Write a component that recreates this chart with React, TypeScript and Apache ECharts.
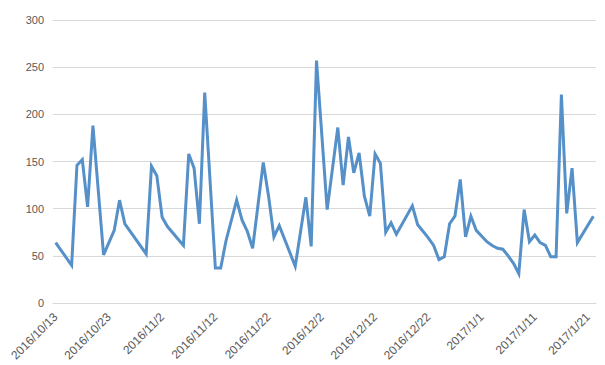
import React, { useEffect, useRef } from "react";
import * as echarts from "echarts";

// first and last day of the date axis
const startDate = "2016/10/13";
const endDate = "2017/1/22";

// observed dates and values
const dates = [
  "2016/10/13", "2016/10/16", "2016/10/17", "2016/10/18", "2016/10/19", "2016/10/20", "2016/10/22",
  "2016/10/24", "2016/10/25", "2016/10/26", "2016/10/30", "2016/10/31", "2016/11/1", "2016/11/2",
  "2016/11/3", "2016/11/6", "2016/11/7", "2016/11/8", "2016/11/9", "2016/11/10", "2016/11/12",
  "2016/11/13", "2016/11/14", "2016/11/16", "2016/11/17", "2016/11/18", "2016/11/19", "2016/11/21",
  "2016/11/22", "2016/11/23", "2016/11/24", "2016/11/27", "2016/11/29", "2016/11/30", "2016/12/1",
  "2016/12/3", "2016/12/5", "2016/12/6", "2016/12/7", "2016/12/8", "2016/12/9", "2016/12/10",
  "2016/12/11", "2016/12/12", "2016/12/13", "2016/12/14", "2016/12/15", "2016/12/16", "2016/12/19",
  "2016/12/20", "2016/12/21", "2016/12/22", "2016/12/23", "2016/12/24", "2016/12/25", "2016/12/26",
  "2016/12/27", "2016/12/28", "2016/12/29", "2016/12/30", "2016/12/31", "2017/1/1", "2017/1/2",
  "2017/1/3", "2017/1/4", "2017/1/5", "2017/1/6", "2017/1/7", "2017/1/8", "2017/1/9", "2017/1/10",
  "2017/1/11", "2017/1/12", "2017/1/13", "2017/1/14", "2017/1/15", "2017/1/16", "2017/1/17",
  "2017/1/18", "2017/1/19", "2017/1/22",
];
const values = [
  64, 40, 146, 152, 102, 188, 51,
  77, 109, 84, 52, 145, 135, 91,
  81, 61, 158, 143, 84, 223, 37,
  37, 66, 109, 88, 76, 58, 149,
  113, 70, 82, 39, 112, 60, 257,
  99, 186, 125, 176, 138, 159, 113,
  92, 158, 148, 75, 85, 73, 103,
  83, 76, 69, 61, 46, 49, 84,
  92, 131, 70, 92, 77, 71, 65,
  61, 58, 57, 50, 42, 31, 99, 65,
  72, 64, 61, 49, 49, 221, 95,
  143, 64, 92,
];

// y-axis ticks
const yMin = 0;
const yMax = 300;
const yStep = 50;

function buildDays(a: string, b: string): string[] {
  const out: string[] = [];
  const [y0, m0, d0] = a.split("/").map(Number);
  const [y1, m1, d1] = b.split("/").map(Number);
  const cur = new Date(y0, m0 - 1, d0);
  const end = new Date(y1, m1 - 1, d1);
  while (cur <= end) {
    out.push(`${cur.getFullYear()}/${cur.getMonth() + 1}/${cur.getDate()}`);
    cur.setDate(cur.getDate() + 1);
  }
  return out;
}

export default function App() {
  const ref = useRef<HTMLDivElement>(null);
  useEffect(() => {
    if (!ref.current) return;
    const chart = echarts.init(ref.current, null, { renderer: "svg" });
    const days = buildDays(startDate, endDate);
    const lookup: Record<string, number> = {};
    dates.forEach((d, i) => (lookup[d] = values[i]));
    const seriesData = days.map((d) => (d in lookup ? lookup[d] : null));
    chart.setOption({
      animation: false,
      grid: { left: 53, right: 9, top: 20, bottom: 62 },
      xAxis: {
        type: "category",
        data: days,
        boundaryGap: true,
        axisLine: { lineStyle: { color: "#d9d9d9", width: 1 } },
        axisTick: { show: false },
        axisLabel: {
          interval: 9,
          rotate: 45,
          color: "#595959",
          fontSize: 12,
          fontFamily: "Liberation Sans, Arial, sans-serif",
          margin: 12,
        },
      },
      yAxis: {
        type: "value",
        min: yMin,
        max: yMax,
        interval: yStep,
        axisLine: { show: false },
        axisTick: { show: false },
        splitLine: { lineStyle: { color: "#d9d9d9", width: 1 } },
        axisLabel: {
          color: "#595959",
          fontSize: 11,
          fontFamily: "Liberation Sans, Arial, sans-serif",
          margin: 9,
        },
      },
      series: [
        {
          type: "line",
          data: seriesData,
          connectNulls: true,
          symbol: "none",
          lineStyle: { color: "#5690c8", width: 3, join: "miter" },
        },
      ],
    });
    return () => chart.dispose();
  }, []);
  return <div ref={ref} style={{ width: 605, height: 365, position: "absolute", left: 0, top: 0 }} />;
}
